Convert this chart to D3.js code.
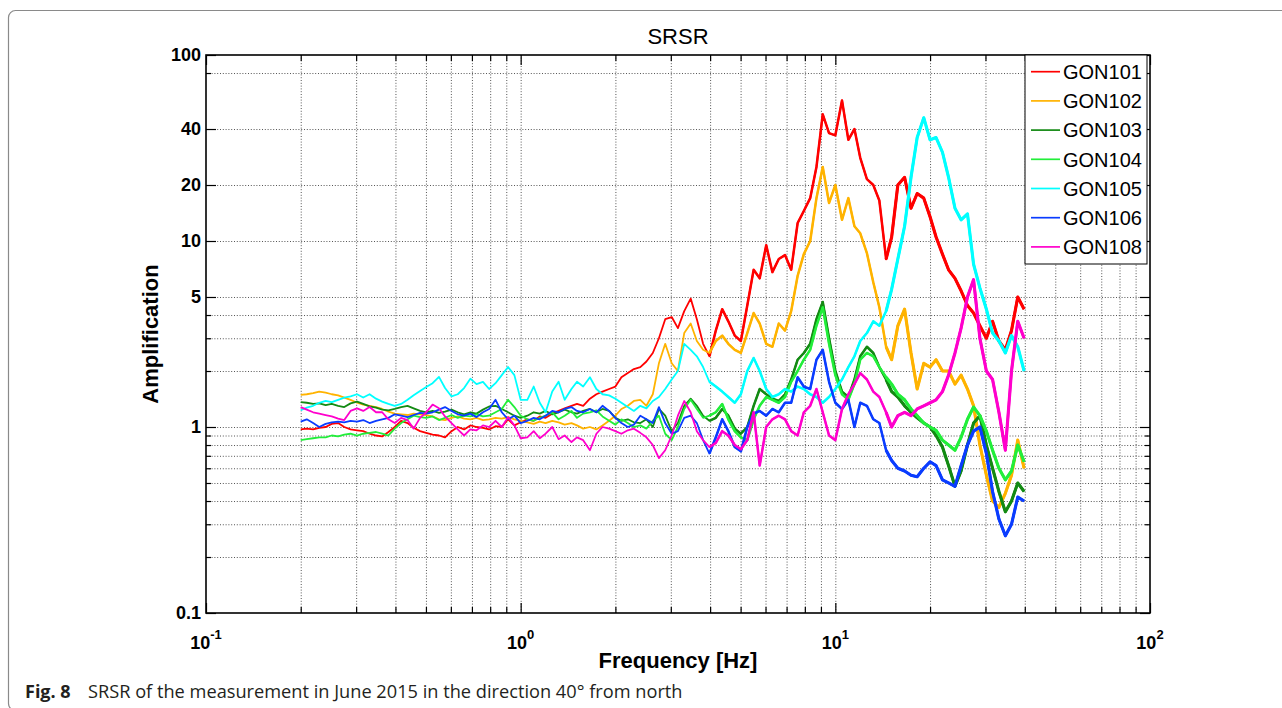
<!DOCTYPE html>
<html>
<head>
<meta charset="utf-8">
<script src="https://cdn.jsdelivr.net/npm/d3@7"></script>
<style>
    body { margin: 0; background: #fff; }
    svg { display: block; }
    .grid line { stroke: #555; stroke-width: 1; stroke-dasharray: 1,1.8; }
    .grid path { display: none; }
    .ticks path { display: none; }
    .ticks line { stroke: #000; stroke-width: 1.2; }
    .ticks text { font-family: "Liberation Sans", Arial, sans-serif; font-size: 18px; font-weight: bold; fill: #000; }
    .axis-title { font-family: "Liberation Sans", Arial, sans-serif; font-size: 22px; font-weight: bold; fill: #000; }
    .chart-title { font-family: "Liberation Sans", Arial, sans-serif; font-size: 22px; fill: #000; }
    .legend text { font-family: "Liberation Sans", Arial, sans-serif; font-size: 20px; fill: #000; }
    .caption { font-family: "Open Sans", sans-serif; font-size: 18px; fill: #231f20; }
</style>
</head>
<body>
<div id="chart"></div>
<script>
const freqs = [
    0.200,0.209,0.219,0.229,0.240,0.251,0.263,0.275,0.288,0.302,
    0.316,0.331,0.347,0.363,0.380,0.398,0.417,0.437,0.457,0.479,
    0.501,0.525,0.550,0.575,0.603,0.631,0.661,0.692,0.724,0.759,
    0.794,0.832,0.871,0.912,0.955,1.00,1.05,1.10,1.15,1.20,
    1.26,1.32,1.38,1.45,1.51,1.58,1.66,1.74,1.82,1.91,
    2.00,2.09,2.19,2.29,2.40,2.51,2.63,2.75,2.88,3.02,
    3.16,3.31,3.47,3.63,3.80,3.98,4.17,4.37,4.57,4.79,
    5.01,5.25,5.50,5.75,6.03,6.31,6.61,6.92,7.24,7.59,
    7.94,8.32,8.71,9.12,9.55,10.0,10.5,11.0,11.5,12.0,
    12.6,13.2,13.8,14.5,15.1,15.8,16.6,17.4,18.2,19.1,
    20.0,20.9,21.9,22.9,24.0,25.1,26.3,27.5,28.8,30.2,
    31.6,33.1,34.7,36.3,38.0,39.8
];

const gon101 = [
    0.97,0.98,0.97,0.99,1.0,1.04,1.05,1.0,0.97,0.96,
    0.95,0.92,0.9,0.89,0.94,1.0,1.08,1.05,0.99,0.95,
    0.93,0.91,0.9,0.88,0.95,1.0,0.97,1.02,1.0,0.99,
    0.97,1.01,1.0,1.1,1.02,1.06,1.1,1.08,1.14,1.12,
    1.18,1.22,1.26,1.3,1.33,1.3,1.42,1.5,1.55,1.6,
    1.65,1.85,1.95,2.05,2.1,2.25,2.5,3.0,3.8,3.9,
    3.4,4.2,4.9,3.8,2.8,2.4,3.3,4.3,3.7,3.1,
    2.9,4.5,7.0,6.3,9.5,6.8,8.0,8.4,7.0,12.5,
    14.5,17,25,48,38,37,57,35,40,28,
    21.5,20,16.5,8,10.5,20,22,15,18,17,
    13.5,10.5,8.5,7,6.3,5.4,4.5,4.1,3.5,3.0,
    3.7,2.9,2.6,3.3,5.0,4.3
];

const gon102 = [
    1.49,1.5,1.52,1.55,1.53,1.5,1.48,1.44,1.4,1.35,
    1.32,1.3,1.28,1.25,1.21,1.18,1.17,1.16,1.18,1.17,
    1.16,1.14,1.1,1.09,1.12,1.14,1.11,1.1,1.12,1.09,
    1.1,1.12,1.11,1.13,1.1,1.08,1.06,1.04,1.07,1.05,
    1.08,1.06,1.03,1.05,1.02,0.98,1.0,0.97,1.02,1.08,
    1.15,1.25,1.3,1.38,1.4,1.3,1.5,2.2,2.8,2.2,
    2.0,3.2,3.6,2.9,2.6,2.5,2.9,3.1,2.8,2.6,
    2.5,3.2,4.1,3.6,2.8,2.7,3.6,3.3,4.2,6.5,
    8.5,10,17,25,16,20,13,17,12,11,
    8.6,6,4.4,2.7,2.3,3.5,4.3,2.5,1.6,2.2,
    2.1,2.3,2.0,2.0,1.7,1.9,1.6,1.3,0.8,0.55,
    0.4,0.37,0.44,0.55,0.85,0.6
];

const gon103 = [
    1.36,1.35,1.33,1.34,1.31,1.33,1.3,1.28,1.34,1.37,
    1.33,1.29,1.27,1.24,1.23,1.25,1.28,1.3,1.26,1.22,
    1.2,1.22,1.19,1.21,1.24,1.2,1.17,1.2,1.18,1.24,
    1.29,1.3,1.25,1.2,1.15,1.12,1.15,1.2,1.18,1.22,
    1.17,1.2,1.24,1.2,1.18,1.22,1.25,1.2,1.25,1.22,
    1.12,1.08,1.1,1.06,1.05,1.1,1.0,1.25,1.15,0.95,
    1.05,1.3,1.42,1.3,1.15,1.08,1.12,1.25,1.15,0.98,
    0.92,1.0,1.3,1.6,1.5,1.42,1.38,1.5,1.8,2.3,
    2.5,2.8,3.8,4.7,3.0,2.0,1.55,1.45,1.8,2.4,
    2.7,2.5,2.1,1.8,1.55,1.45,1.3,1.2,1.12,1.05,
    1.0,0.9,0.78,0.62,0.48,0.58,0.8,1.05,1.15,0.8,
    0.6,0.45,0.35,0.4,0.5,0.45
];

const gon104 = [
    0.85,0.86,0.87,0.88,0.88,0.9,0.89,0.91,0.92,0.9,
    0.92,0.93,0.94,0.92,0.9,0.98,1.05,1.1,1.15,1.13,
    1.12,1.14,1.09,1.12,1.16,1.12,1.15,1.14,1.17,1.14,
    1.15,1.2,1.25,1.4,1.28,1.15,1.1,1.08,1.12,1.15,
    1.2,1.1,1.15,1.22,1.12,1.18,1.2,1.23,1.14,1.08,
    1.03,1.1,1.05,1.0,1.02,0.98,1.08,1.15,0.92,0.85,
    1.0,1.25,1.4,1.25,1.12,1.15,1.2,1.33,1.1,0.95,
    0.88,0.85,1.1,1.3,1.45,1.4,1.35,1.45,1.75,2.0,
    2.3,2.6,3.5,4.4,2.8,1.9,1.5,1.4,1.7,2.3,
    2.5,2.4,2.1,1.85,1.7,1.5,1.4,1.25,1.15,1.05,
    1.0,0.96,0.85,0.8,0.75,0.88,1.1,1.28,1.15,0.95,
    0.75,0.6,0.52,0.58,0.8,0.65
];

const gon105 = [
    1.23,1.27,1.3,1.35,1.38,1.36,1.4,1.44,1.46,1.5,
    1.44,1.5,1.42,1.37,1.33,1.3,1.33,1.4,1.48,1.56,
    1.64,1.72,1.86,1.62,1.46,1.5,1.62,1.82,1.7,1.75,
    1.6,1.72,1.9,2.1,1.9,1.4,1.4,1.65,1.35,1.2,
    1.55,1.75,1.4,1.6,1.75,1.65,1.85,1.6,1.5,1.48,
    1.42,1.35,1.28,1.22,1.3,1.26,1.38,1.45,1.6,1.8,
    2.0,2.8,2.6,2.4,2.1,1.75,1.65,1.55,1.45,1.35,
    1.5,2.0,2.35,2.0,1.6,1.45,1.5,1.6,1.55,1.65,
    1.6,1.5,1.45,1.35,1.45,1.6,1.8,2.1,2.4,2.9,
    3.2,3.7,3.5,4.2,5.5,8,12,22,36,46,
    35,36,30,22,15,13,14,7.5,5.6,4.3,
    3.2,2.9,2.5,3.1,2.7,2.0
];

const gon106 = [
    1.07,1.1,1.05,1.0,1.04,1.06,1.07,1.06,1.08,1.07,
    1.09,1.05,1.08,1.1,1.12,1.17,1.15,1.13,1.16,1.19,
    1.18,1.2,1.24,1.28,1.22,1.17,1.15,1.18,1.13,1.2,
    1.25,1.4,1.2,1.1,1.15,1.05,1.08,1.12,1.1,1.15,
    1.22,1.2,1.25,1.28,1.22,1.2,1.25,1.2,1.3,1.22,
    1.12,1.05,1.0,1.03,1.15,1.1,1.05,1.28,1.05,0.92,
    0.95,1.12,1.15,1.05,0.85,0.72,0.88,1.1,0.95,0.78,
    0.74,1.0,1.18,1.22,1.15,1.25,1.2,1.35,1.35,1.85,
    1.65,1.6,2.3,2.6,1.75,1.35,1.25,1.4,1.0,1.35,
    1.3,1.1,1.05,0.75,0.66,0.6,0.58,0.55,0.54,0.6,
    0.65,0.62,0.52,0.5,0.48,0.62,0.8,0.95,1.0,0.72,
    0.45,0.32,0.26,0.3,0.42,0.4
];

const gon108 = [
    1.28,1.24,1.2,1.18,1.16,1.14,1.11,1.09,1.22,1.26,
    1.22,1.28,1.2,1.2,1.1,1.05,1.12,1.09,0.98,1.12,
    1.2,1.32,1.26,1.14,1.05,0.97,0.9,0.97,0.96,1.02,
    1.0,1.08,1.0,1.13,1.02,0.87,0.88,0.95,0.87,0.92,
    1.0,0.86,0.9,0.83,0.88,0.85,0.75,0.92,1.0,0.98,
    0.95,0.92,0.96,0.98,0.93,0.88,0.8,0.68,0.75,0.9,
    1.15,1.38,1.2,0.95,0.85,0.78,0.82,0.95,0.9,0.8,
    0.76,0.85,1.2,0.62,1.0,1.1,1.15,1.1,0.95,0.9,
    1.2,1.3,1.6,1.2,0.9,0.85,1.25,1.5,1.7,1.95,
    1.8,1.55,1.45,1.2,1.0,1.15,1.2,1.15,1.25,1.3,
    1.35,1.4,1.55,1.9,2.5,3.4,5.0,6.2,3.0,2.0,
    1.8,1.2,0.75,2.0,3.7,3.0
];

const seriesNames = ["GON101", "GON102", "GON103", "GON104", "GON105", "GON106", "GON108"];
const seriesValues = [gon101, gon102, gon103, gon104, gon105, gon106, gon108];

// y axis: dotted grid rows and labelled ticks
const yGridValues = [0.2, 0.3, 0.4, 0.5, 0.6, 0.7, 0.8, 0.9, 1, 2, 3, 4, 5, 10, 20, 40, 80];
const yLabelValues = [0.1, 1, 5, 10, 20, 40, 100];
const xLabelValues = [0.1, 1, 10, 100];

const lineColors = ["#ff0000", "#ffb300", "#138a13", "#22ee3a", "#00ffff", "#0a3cff", "#ff00cc"];
// the measured curves get denser (thicker looking) toward high frequency
const bandWidths = [{from: 0, w: 1.8}, {from: 4, w: 2.5}, {from: 15, w: 3.1}];


class SrsrChart {
    constructor(parentElement, freqs, series) {
        this.parentElement = parentElement;
        this.freqs = freqs;
        this.series = series;
        this.initVis();
    }

    initVis() {
        let vis = this;

        vis.margin = {top: 55, right: 132, bottom: 95, left: 206};
        vis.width = 1282 - vis.margin.left - vis.margin.right;
        vis.height = 708 - vis.margin.top - vis.margin.bottom;

        vis.root = d3.select("#" + vis.parentElement).append("svg")
            .attr("width", 1282)
            .attr("height", 708);

        // figure frame (rounded, runs off the right edge)
        vis.root.append("rect")
            .attr("x", 8.5).attr("y", 10.5)
            .attr("width", 1400).attr("height", 700)
            .attr("rx", 7)
            .attr("fill", "none")
            .attr("stroke", "#8a8a8a")
            .attr("stroke-width", 1.2);

        vis.svg = vis.root.append("g")
            .attr("transform", "translate(" + vis.margin.left + "," + vis.margin.top + ")");

        vis.x = d3.scaleLog().domain([0.1, 100]).range([0, vis.width]);
        vis.y = d3.scaleLog().domain([0.1, 100]).range([vis.height, 0]);

        // grid
        vis.svg.append("g")
            .attr("class", "grid")
            .attr("transform", "translate(0," + vis.height + ")")
            .call(d3.axisBottom(vis.x).tickValues(vis.x.ticks().filter(d => d > 0.1 && d < 100))
                .tickSize(-vis.height).tickFormat(""));

        vis.svg.append("g")
            .attr("class", "grid")
            .call(d3.axisLeft(vis.y).tickValues(yGridValues)
                .tickSize(-vis.width).tickFormat(""));

        // ticks, bottom and top, left and right (inward)
        let xMinor = vis.x.ticks().filter(d => !xLabelValues.includes(d));
        let yMinor = yGridValues.filter(d => !yLabelValues.includes(d));

        vis.svg.append("g").attr("class", "ticks")
            .attr("transform", "translate(0," + vis.height + ")")
            .call(d3.axisBottom(vis.x).tickValues(xMinor).tickSize(-6).tickSizeOuter(0).tickFormat(""));
        vis.svg.append("g").attr("class", "ticks")
            .attr("transform", "translate(0," + vis.height + ")")
            .call(d3.axisBottom(vis.x).tickValues(xLabelValues).tickSize(-10).tickSizeOuter(0).tickFormat(""));
        vis.svg.append("g").attr("class", "ticks")
            .call(d3.axisTop(vis.x).tickValues(xMinor).tickSize(-6).tickSizeOuter(0).tickFormat(""));
        vis.svg.append("g").attr("class", "ticks")
            .call(d3.axisTop(vis.x).tickValues(xLabelValues).tickSize(-10).tickSizeOuter(0).tickFormat(""));

        vis.svg.append("g").attr("class", "ticks")
            .call(d3.axisLeft(vis.y).tickValues(yMinor).tickSize(-5).tickSizeOuter(0).tickFormat(""));
        vis.svg.append("g").attr("class", "ticks y-labels")
            .call(d3.axisLeft(vis.y).tickValues(yLabelValues).tickSize(-10).tickSizeOuter(0)
                .tickPadding(5).tickFormat(d => d3.format("~g")(d)));
        vis.svg.append("g").attr("class", "ticks")
            .attr("transform", "translate(" + vis.width + ",0)")
            .call(d3.axisRight(vis.y).tickValues(yMinor).tickSize(-5).tickSizeOuter(0).tickFormat(""));
        vis.svg.append("g").attr("class", "ticks")
            .attr("transform", "translate(" + vis.width + ",0)")
            .call(d3.axisRight(vis.y).tickValues(yLabelValues).tickSize(-10).tickSizeOuter(0).tickFormat(""));

        // x labels as 10^n
        let xl = vis.svg.append("g").attr("class", "ticks")
            .selectAll("text.xlab")
            .data(xLabelValues)
            .enter().append("text")
            .attr("class", "xlab")
            .attr("x", d => vis.x(d))
            .attr("y", vis.height + 36)
            .attr("text-anchor", "middle");
        xl.append("tspan").text("10");
        xl.append("tspan")
            .attr("dy", -10)
            .attr("font-size", "13px")
            .text(d => Math.round(Math.log10(d)));

        // line layer
        vis.line = d3.line()
            .x(d => vis.x(d.f))
            .y(d => vis.y(d.a));

        vis.lineGroup = vis.svg.append("g").attr("class", "lines");

        // frame of the axes
        vis.svg.append("rect")
            .attr("width", vis.width)
            .attr("height", vis.height)
            .attr("fill", "none")
            .attr("stroke", "#000")
            .attr("stroke-width", 1.6);

        // titles
        vis.svg.append("text")
            .attr("class", "chart-title")
            .attr("x", vis.width / 2)
            .attr("y", -11)
            .attr("text-anchor", "middle")
            .text("SRSR");

        vis.svg.append("text")
            .attr("class", "axis-title")
            .attr("x", vis.width / 2)
            .attr("y", vis.height + 55)
            .attr("text-anchor", "middle")
            .text("Frequency [Hz]");

        vis.svg.append("text")
            .attr("class", "axis-title")
            .attr("x", -vis.height / 2)
            .attr("y", -48)
            .attr("transform", "rotate(-90)")
            .attr("text-anchor", "middle")
            .text("Amplification");

        // caption
        vis.root.append("text")
            .attr("class", "caption")
            .attr("x", 25)
            .attr("y", 698)
            .attr("font-weight", "bold")
            .text("Fig. 8");
        let capText = vis.root.append("text")
            .attr("class", "caption")
            .attr("x", 88)
            .attr("y", 698)
            .text("SRSR of the measurement in June 2015 in the direction 40° from north");
        // size the caption so that it spans the same width as in the figure
        let capLen = capText.node().getComputedTextLength();
        if (capLen > 0) capText.style("font-size", (18 * 595 / capLen).toFixed(2) + "px");

        vis.wrangleData();
    }

    wrangleData() {
        let vis = this;
        vis.displayData = vis.series.map((vals, i) => ({
            name: seriesNames[i],
            color: lineColors[i],
            values: vals.map((a, j) => ({f: vis.freqs[j], a: a}))
        }));
        vis.updateVis();
    }

    updateVis() {
        let vis = this;

        let groups = vis.lineGroup.selectAll("g.series")
            .data(vis.displayData)
            .enter().append("g")
            .attr("class", "series");

        groups.each(function(d) {
            let g = d3.select(this);
            bandWidths.forEach((b, bi) => {
                // start one sample early so the pieces join
                let start = Math.max(0, d.values.findIndex(v => v.f >= b.from) - (bi > 0 ? 1 : 0));
                g.append("path")
                    .attr("d", vis.line(d.values.slice(start)))
                    .attr("fill", "none")
                    .attr("stroke", d.color)
                    .attr("stroke-width", b.w)
                    .attr("stroke-linejoin", "round");
            });
        });

        // legend in the top right corner
        let lg = vis.svg.append("g").attr("class", "legend")
            .attr("transform", "translate(" + (vis.width - 125) + ",0)");
        lg.append("rect")
            .attr("width", 122).attr("height", 209)
            .attr("fill", "#fff")
            .attr("stroke", "#000")
            .attr("stroke-width", 1);

        let items = lg.selectAll("g.item")
            .data(vis.displayData)
            .enter().append("g")
            .attr("class", "item")
            .attr("transform", (d, i) => "translate(0," + (16.7 + i * 29.2) + ")");
        items.append("line")
            .attr("x1", 6).attr("x2", 35)
            .attr("stroke", d => d.color)
            .attr("stroke-width", 1.7);
        items.append("text")
            .attr("x", 38)
            .attr("dy", "0.36em")
            .text(d => d.name);
    }
}

new SrsrChart("chart", freqs, seriesValues);
</script>
</body>
</html>
